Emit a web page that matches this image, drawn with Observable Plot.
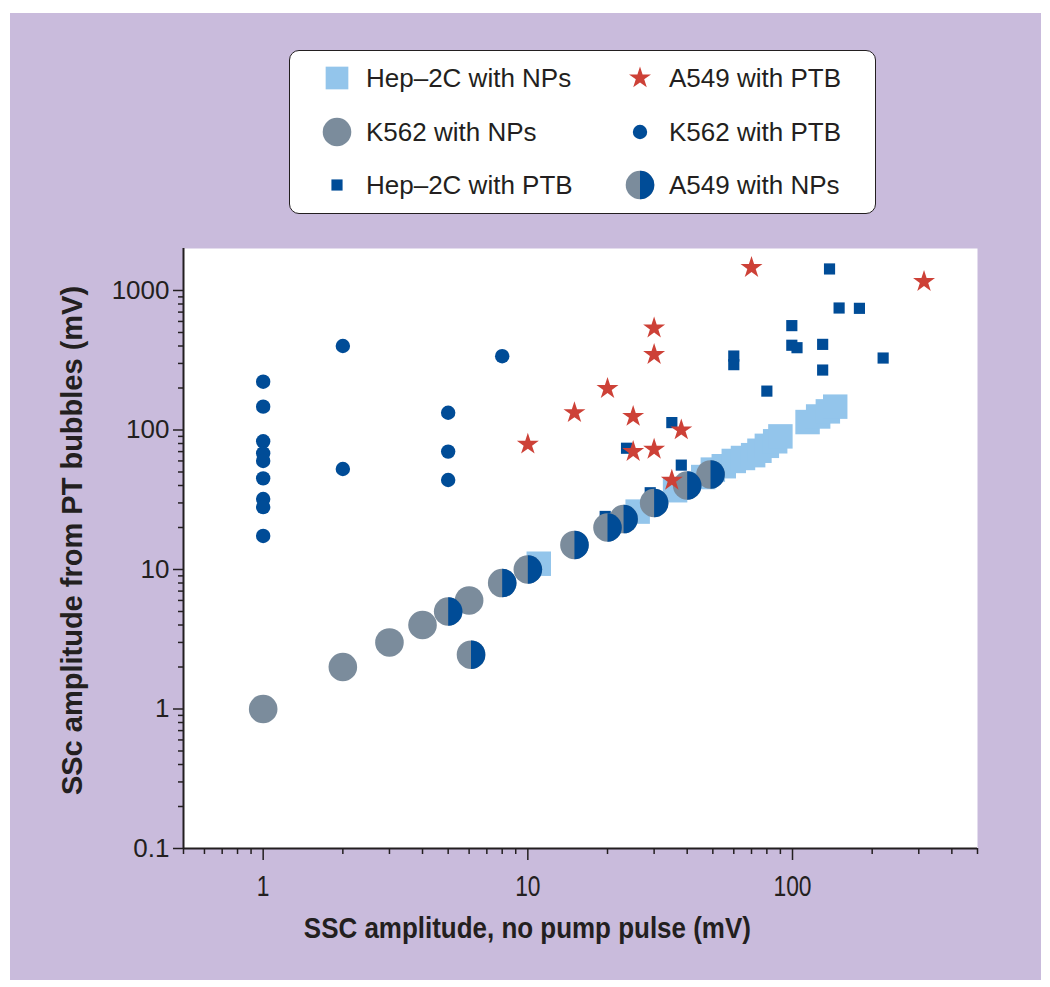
<!DOCTYPE html>
<html>
<head>
<meta charset="utf-8">
<script src="https://cdn.jsdelivr.net/npm/d3@7"></script>
<script src="https://cdn.jsdelivr.net/npm/@observablehq/plot@0.6"></script>
<style>
  body { margin: 0; background: #ffffff; font-family: "Liberation Sans", Arial, Helvetica, sans-serif; color: #231f20; }
  #wrap { position: relative; width: 1050px; height: 987px; overflow: hidden; }
  #bg { position: absolute; left: 10px; top: 13px; width: 1031px; height: 967px; background: #c9bbdc; }
  #plot { position: absolute; left: 0; top: 0; }
  #legend { position: absolute; left: 289px; top: 50px; width: 587px; height: 164px; box-sizing: border-box;
            background: #ffffff; border: 1.5px solid #231f20; border-radius: 10px; }
  .lg-text { position: absolute; font-size: 26px; line-height: 26px; white-space: nowrap; color: #231f20; }
  .lg-sym { position: absolute; overflow: visible; }
  #xtitle { position: absolute; white-space: nowrap; font-weight: bold; font-size: 30px; line-height: 30px; color: #231f20; transform-origin: center center; }
  #ytitle { position: absolute; white-space: nowrap; font-weight: bold; font-size: 29px; line-height: 29px; color: #231f20; }
</style>
</head>
<body>
<div id="wrap">
  <div id="bg"></div>
  <div id="plot"></div>
  <div id="legend"></div>
</div>
<script>
// ---------- data ----------
const hepNP_x = [11, 26, 36, 46, 50, 55, 60, 65, 71, 75, 80, 86, 90, 114, 125, 136, 145];
const hepNP_y = [11, 26, 37, 46, 52, 55, 60, 63, 66, 71, 77, 83, 90, 114, 125, 136, 147];

const k562NP_x = [1, 2, 3, 4, 6];
const k562NP_y = [1, 2, 3, 4, 6];

const hepPTB_x = [138, 150, 179, 99.4, 99.4, 104, 130, 130, 220, 60, 60, 80, 35, 23.6, 38, 29, 19.6];
const hepPTB_y = [1427, 749, 745, 560, 405, 389, 411, 269, 328, 339, 294, 190, 113, 74, 56, 35.5, 24];

const a549NP_x = [5, 6.1, 8, 10, 15, 20, 23, 30, 40, 49];
const a549NP_y = [5, 2.45, 8, 10, 15, 20, 23, 30, 40, 48];

const k562PTB_x = [1, 1, 1, 1, 1, 1, 1, 1, 1, 2, 2, 5, 5, 5, 8];
const k562PTB_y = [222, 147, 83, 68, 60, 45, 32, 28, 17.4, 400, 52.5, 133, 70, 43.8, 338];

const a549PTB_x = [10, 15, 20, 25, 30, 30, 25, 30, 38, 35, 70, 314];
const a549PTB_y = [79, 133, 198, 125, 538, 347, 70, 72.7, 100, 43.6, 1458, 1157];

const yMajorTicks = [0.1, 1, 10, 100, 1000];
const yMinorTicks = [0.2,0.3,0.4,0.5,0.6,0.7,0.8,0.9, 2,3,4,5,6,7,8,9, 20,30,40,50,60,70,80,90, 200,300,400,500,600,700,800,900];
const xMajorTicks = [1, 10, 100];
const xMinorTicks = [0.5,0.6,0.7,0.8,0.9, 2,3,4,5,6,7,8,9, 20,30,40,50,60,70,80,90, 200,300,400,500];

const legendLabels = ["Hep\u20132C with NPs", "K562 with NPs", "Hep\u20132C with PTB", "A549 with PTB", "K562 with PTB", "A549 with NPs"];
const xTitle = "SSC amplitude, no pump pulse (mV)";
const yTitle = "SSc amplitude from PT bubbles (mV)";

// ---------- style ----------
const cLightBlue = "#93c5eb", cGray = "#7b8c9c", cNavy = "#004c97", cRed = "#cd4137", cInk = "#231f20";
const R_BIG_SQ = 13.8, R_BIG_CIRC = 14.3, R_SMALL_SQ = 6.3, R_DOT = 7.2, R_STAR = 6.9;

const halfRight = {
  draw(ctx, size) {
    const r = Math.sqrt(size / Math.PI);
    ctx.moveTo(0, -r);
    ctx.arc(0, 0, r, -Math.PI / 2, Math.PI / 2);
    ctx.closePath();
  }
};

const zip = (xs, ys) => xs.map((x, i) => ({x, y: ys[i]}));
const hepNP = zip(hepNP_x, hepNP_y);
const k562NP = zip(k562NP_x, k562NP_y);
const hepPTB = zip(hepPTB_x, hepPTB_y);
const a549NP = zip(a549NP_x, a549NP_y);
const k562PTB = zip(k562PTB_x, k562PTB_y);
const a549PTB = zip(a549PTB_x, a549PTB_y);

const fontFam = "'Liberation Sans', Arial, Helvetica, sans-serif";

const chart = Plot.plot({
  width: 1050,
  height: 987,
  marginLeft: 183,
  marginRight: 73,
  marginTop: 248,
  marginBottom: 139,
  style: {background: "transparent", fontFamily: fontFam, color: cInk},
  x: {type: "log", domain: [0.5, 500], label: null},
  y: {type: "log", domain: [0.1, 2000], label: null},
  marks: [
    Plot.frame({fill: "white", stroke: "none"}),
    Plot.dot(hepNP, {x: "x", y: "y", symbol: "square", r: R_BIG_SQ, fill: cLightBlue}),
    Plot.dot(k562NP, {x: "x", y: "y", r: R_BIG_CIRC, fill: cGray}),
    Plot.dot(hepPTB, {x: "x", y: "y", symbol: "square", r: R_SMALL_SQ, fill: cNavy}),
    Plot.dot(a549NP, {x: "x", y: "y", r: R_BIG_CIRC, fill: cGray}),
    Plot.dot(a549NP, {x: "x", y: "y", r: R_BIG_CIRC, symbol: halfRight, fill: cNavy}),
    Plot.dot(k562PTB, {x: "x", y: "y", r: R_DOT, fill: cNavy}),
    Plot.dot(a549PTB, {x: "x", y: "y", symbol: "star", r: R_STAR, fill: cRed}),
    Plot.ruleX([0.5], {stroke: cInk, strokeWidth: 2}),
    Plot.ruleY([0.1], {stroke: cInk, strokeWidth: 2}),
    Plot.axisY(yMajorTicks, {anchor: "left", tickSize: 10, tickPadding: 4, fontSize: 26, tickFormat: d3.format("~g"), label: null, stroke: cInk, strokeWidth: 1.5}),
    Plot.axisY(yMinorTicks, {anchor: "left", tickSize: 5, tickFormat: () => "", label: null, stroke: cInk, strokeWidth: 1.5}),
    Plot.axisX(xMajorTicks, {anchor: "bottom", tickSize: 12, tickPadding: 14, fontSize: 30, tickFormat: d3.format("~g"), label: null, stroke: cInk, strokeWidth: 1.5}),
    Plot.axisX(xMinorTicks, {anchor: "bottom", tickSize: 6, tickFormat: () => "", label: null, stroke: cInk, strokeWidth: 1.5})
  ]
});
document.getElementById("plot").appendChild(chart);

// condensed look for x tick labels
d3.select(chart).selectAll('g[aria-label="x-axis tick label"] text').each(function() {
  const t = this.textContent;
  if (!t) return;
  const w = this.getComputedTextLength();
  this.setAttribute("textLength", (w * 0.76).toFixed(2));
  this.setAttribute("lengthAdjust", "spacingAndGlyphs");
});

// ---------- legend ----------
const wrap = document.getElementById("wrap");
const legendItems = [
  {label: legendLabels[0], sx: 337, sy: 78, tx: 366, type: d3.symbolSquare, r: 12.8, fill: cLightBlue},
  {label: legendLabels[1], sx: 337, sy: 132, tx: 366, type: d3.symbolCircle, r: R_BIG_CIRC, fill: cGray},
  {label: legendLabels[2], sx: 337, sy: 185, tx: 366, type: d3.symbolSquare, r: R_SMALL_SQ, fill: cNavy},
  {label: legendLabels[3], sx: 640, sy: 78, tx: 669, type: d3.symbolStar, r: R_STAR, fill: cRed},
  {label: legendLabels[4], sx: 640, sy: 132, tx: 669, type: d3.symbolCircle, r: R_DOT, fill: cNavy},
  {label: legendLabels[5], sx: 640, sy: 185, tx: 669, type: "half", r: R_BIG_CIRC, fill: cNavy}
];
legendItems.forEach(it => {
  const svg = d3.create("svg").attr("class", "lg-sym").attr("width", 40).attr("height", 40)
    .style("left", (it.sx - 20) + "px").style("top", (it.sy - 20) + "px");
  const g = svg.append("g").attr("transform", "translate(20,20)");
  const size = it.r * it.r * Math.PI;
  if (it.type === "half") {
    g.append("path").attr("d", d3.symbol(d3.symbolCircle, size)()).attr("fill", cGray);
    g.append("path").attr("d", d3.symbol(halfRight, size)()).attr("fill", cNavy);
  } else {
    g.append("path").attr("d", d3.symbol(it.type, size)()).attr("fill", it.fill);
  }
  wrap.appendChild(svg.node());
  const tx = document.createElement("div");
  tx.className = "lg-text";
  tx.textContent = it.label;
  tx.style.left = it.tx + "px";
  tx.style.top = (it.sy - 0.49 * 26) + "px";
  wrap.appendChild(tx);
});

// ---------- axis titles ----------
const xt = document.createElement("div");
xt.id = "xtitle";
xt.textContent = xTitle;
wrap.appendChild(xt);
const xw = xt.getBoundingClientRect().width;
const xTarget = 447;
xt.style.left = (527 - xw / 2) + "px";
xt.style.top = (928 - 0.49 * 30) + "px";
xt.style.transform = `scaleX(${xTarget / xw})`;

const yt = document.createElement("div");
yt.id = "ytitle";
yt.textContent = yTitle;
wrap.appendChild(yt);
const yw = yt.getBoundingClientRect().width;
yt.style.left = (73 - yw / 2) + "px";
yt.style.top = (540 - 14.5) + "px";
yt.style.transform = "rotate(-90deg)";
yt.style.transformOrigin = "center center";
</script>
</body>
</html>
